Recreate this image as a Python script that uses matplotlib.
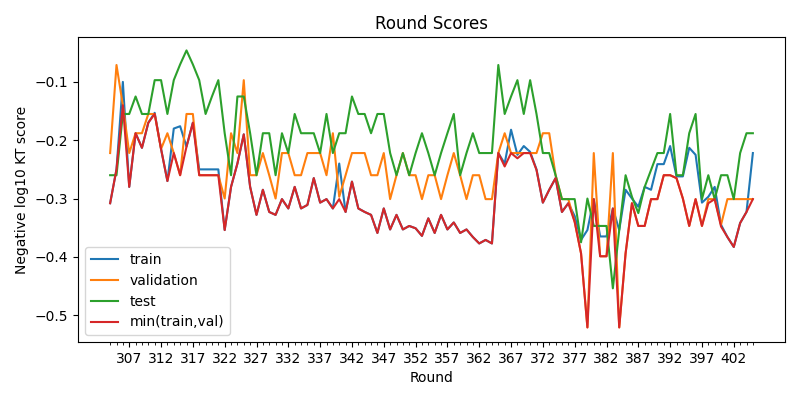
import matplotlib
matplotlib.use("Agg")
import matplotlib.pyplot as plt
import numpy as np

rounds = list(range(304, 406))

train = [-0.308, -0.25, -0.10, -0.28, -0.188, -0.213, -0.17, -0.153, -0.215, -0.27,
         -0.18, -0.176, -0.211, -0.17, -0.25, -0.25, -0.25, -0.25, -0.354, -0.28,
         -0.24, -0.19, -0.28, -0.328, -0.285, -0.323, -0.328, -0.301, -0.317, -0.28,
         -0.317, -0.311, -0.265, -0.307, -0.301, -0.317, -0.24, -0.323, -0.271, -0.317,
         -0.323, -0.328, -0.359, -0.317, -0.353, -0.328, -0.353, -0.347, -0.351, -0.364,
         -0.334, -0.359, -0.328, -0.353, -0.341, -0.359, -0.353, -0.366, -0.377, -0.371,
         -0.377, -0.222, -0.24, -0.182, -0.225, -0.21, -0.22, -0.25, -0.307, -0.285,
         -0.265, -0.323, -0.308, -0.33, -0.371, -0.354, -0.301, -0.365, -0.365, -0.317,
         -0.354, -0.285, -0.30, -0.314, -0.28, -0.285, -0.241, -0.241, -0.21, -0.262,
         -0.262, -0.213, -0.225, -0.307, -0.297, -0.28, -0.345, -0.366, -0.383, -0.342,
         -0.323, -0.222]

validation = [-0.222, -0.071, -0.14, -0.222, -0.188, -0.188, -0.155, -0.155, -0.215, -0.188,
              -0.222, -0.26, -0.155, -0.155, -0.26, -0.26, -0.26, -0.26, -0.30, -0.188,
              -0.222, -0.097, -0.26, -0.26, -0.222, -0.26, -0.30, -0.222, -0.222, -0.26,
              -0.26, -0.222, -0.222, -0.222, -0.26, -0.188, -0.297, -0.26, -0.222, -0.222,
              -0.222, -0.26, -0.26, -0.222, -0.301, -0.26, -0.222, -0.26, -0.26, -0.301,
              -0.26, -0.26, -0.301, -0.26, -0.222, -0.26, -0.301, -0.26, -0.26, -0.301,
              -0.301, -0.222, -0.188, -0.222, -0.222, -0.222, -0.222, -0.222, -0.188, -0.188,
              -0.26, -0.301, -0.301, -0.34, -0.394, -0.521, -0.222, -0.399, -0.399, -0.222,
              -0.521, -0.394, -0.308, -0.347, -0.347, -0.301, -0.301, -0.26, -0.26, -0.265,
              -0.30, -0.347, -0.301, -0.347, -0.301, -0.301, -0.345, -0.301, -0.301, -0.301,
              -0.301, -0.301]

test = [-0.26, -0.26, -0.155, -0.155, -0.125, -0.155, -0.155, -0.097, -0.097, -0.155,
        -0.097, -0.07, -0.046, -0.07, -0.097, -0.155, -0.125, -0.097, -0.188, -0.26,
        -0.125, -0.125, -0.188, -0.26, -0.188, -0.188, -0.26, -0.188, -0.222, -0.155,
        -0.188, -0.188, -0.188, -0.222, -0.155, -0.222, -0.188, -0.188, -0.125, -0.155,
        -0.155, -0.188, -0.155, -0.155, -0.222, -0.26, -0.222, -0.26, -0.222, -0.188,
        -0.222, -0.26, -0.222, -0.188, -0.155, -0.26, -0.222, -0.188, -0.222, -0.222,
        -0.222, -0.071, -0.155, -0.125, -0.097, -0.155, -0.097, -0.155, -0.222, -0.222,
        -0.26, -0.301, -0.301, -0.301, -0.375, -0.30, -0.347, -0.347, -0.347, -0.454,
        -0.354, -0.26, -0.297, -0.325, -0.28, -0.251, -0.222, -0.222, -0.155, -0.26,
        -0.26, -0.188, -0.155, -0.301, -0.26, -0.301, -0.26, -0.26, -0.301, -0.222,
        -0.188, -0.188]

min_train_val = [-0.308, -0.25, -0.14, -0.28, -0.188, -0.213, -0.17, -0.155, -0.215, -0.27,
                 -0.222, -0.26, -0.211, -0.17, -0.26, -0.26, -0.26, -0.26, -0.354, -0.28,
                 -0.24, -0.19, -0.28, -0.328, -0.285, -0.323, -0.328, -0.301, -0.317, -0.28,
                 -0.317, -0.311, -0.265, -0.307, -0.301, -0.317, -0.301, -0.323, -0.271, -0.317,
                 -0.323, -0.328, -0.359, -0.317, -0.353, -0.328, -0.353, -0.347, -0.351, -0.364,
                 -0.334, -0.359, -0.328, -0.353, -0.341, -0.359, -0.353, -0.366, -0.377, -0.371,
                 -0.377, -0.222, -0.245, -0.222, -0.231, -0.222, -0.222, -0.251, -0.307, -0.285,
                 -0.265, -0.323, -0.308, -0.34, -0.394, -0.521, -0.301, -0.399, -0.399, -0.317,
                 -0.521, -0.394, -0.308, -0.347, -0.347, -0.301, -0.301, -0.26, -0.26, -0.265,
                 -0.30, -0.347, -0.301, -0.347, -0.308, -0.301, -0.348, -0.366, -0.383, -0.342,
                 -0.323, -0.301]

fig, ax = plt.subplots(figsize=(8, 4), dpi=100)
ax.plot(rounds, train, label="train")
ax.plot(rounds, validation, label="validation")
ax.plot(rounds, test, label="test")
ax.plot(rounds, min_train_val, label="min(train,val)")
ax.set_title("Round Scores")
ax.set_xlabel("Round")
ax.set_ylabel("Negative log10 KT score")
ax.set_xticks(range(307, 406, 5))
ax.set_xticks(rounds, minor=True)
ax.set_yticks([-0.5, -0.4, -0.3, -0.2, -0.1])
ax.set_ylim(-0.546, -0.023)
ax.legend(loc="lower left")
fig.subplots_adjust(left=0.0975, right=0.98125, top=0.9075, bottom=0.145)
fig.savefig("out.png")
